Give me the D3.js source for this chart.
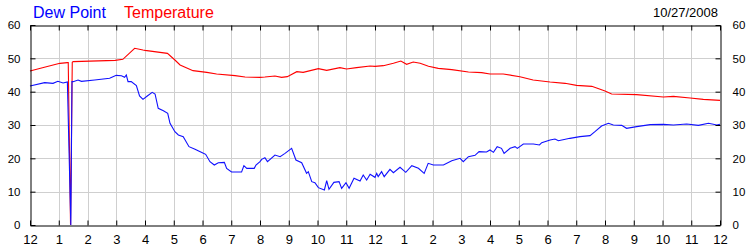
<!DOCTYPE html>
<html>
<head>
<meta charset="utf-8">
<style>
  body { margin: 0; background: #fff; }
  svg text { font-family: "Liberation Sans", Arial, sans-serif; }
</style>
</head>
<body>
<svg width="750" height="250"></svg>
<script src="https://d3js.org/d3.v7.min.js"></script>
<script>

// hours since midnight
var tempHours = [0, 0.5, 1.04, 1.30, 1.33, 1.41, 1.47, 1.5, 2.96, 3.23, 3.64, 3.93, 4.0, 4.78, 5.04, 5.22,
  5.67, 6.15, 6.49, 7.13, 7.48, 8.0, 8.17, 8.52, 8.75, 8.95, 9.28, 9.5, 10.03, 10.32, 10.78, 11.01,
  11.36, 11.83, 12.0, 12.29, 12.64, 12.9, 13.1, 13.33, 13.57, 13.86, 14.2, 14.67, 15.25, 15.71, 16.0,
  16.46, 17.04, 17.5, 18.09, 18.61, 19.01, 19.54, 19.71, 20.0, 20.23, 21.1, 22.03, 22.38, 22.96, 23.42, 24];
var tempValues = [46.2, 47.3, 48.5, 48.7, 48.7, 0, 48.8, 49.0, 49.4, 49.7, 53.0, 52.5, 52.4, 51.5, 49.5, 48.0,
  46.3, 45.8, 45.3, 44.8, 44.4, 44.3, 44.4, 44.7, 44.3, 44.5, 46.0, 45.8, 46.9, 46.4, 47.2, 46.8,
  47.2, 47.7, 47.6, 47.8, 48.5, 49.2, 48.2, 48.9, 48.5, 47.6, 47.0, 46.6, 45.9, 45.7, 45.3,
  45.3, 44.5, 43.5, 42.9, 42.5, 41.9, 41.6, 41.1, 40.2, 39.3, 39.1, 38.4, 38.6, 38.1, 37.7, 37.4];

var dewHours = [0, 0.51, 0.8, 0.97, 1.15, 1.30, 1.42, 1.46, 1.5, 1.67, 1.79, 2.25, 2.77, 3.0, 3.18, 3.29, 3.35,
  3.41, 3.52, 3.7, 3.81, 3.93, 4.08, 4.25, 4.35, 4.46, 4.64, 4.79, 4.87, 5.04, 5.16, 5.33, 5.53, 5.74,
  6.03, 6.11, 6.26, 6.41, 6.55, 6.76, 6.84, 7.01, 7.36, 7.44, 7.54, 7.8, 7.86, 8.0, 8.06, 8.17, 8.26,
  8.52, 8.7, 8.87, 9.1, 9.25, 9.45, 9.62, 9.68, 9.8, 9.91, 10.03, 10.24, 10.32, 10.4, 10.57, 10.75,
  10.84, 10.99, 11.1, 11.27, 11.48, 11.59, 11.71, 11.83, 12.0, 12.06, 12.11, 12.23, 12.32, 12.52,
  12.64, 12.87, 13.07, 13.28, 13.51, 13.71, 13.85, 14.03, 14.38, 14.67, 14.96, 15.07, 15.25, 15.48,
  15.62, 15.88, 16.0, 16.12, 16.25, 16.4, 16.49, 16.7, 16.87, 16.95, 17.16, 17.51, 17.72, 17.8,
  18.09, 18.26, 18.38, 18.78, 19.13, 19.48, 19.65, 19.88, 20.12, 20.29, 20.58, 20.75, 21.1, 21.57,
  22.03, 22.38, 22.84, 23.25, 23.6, 23.89, 24];
var dewValues = [41.7, 42.7, 42.5, 43.1, 42.6, 42.9, 0, 43.0, 43.0, 43.5, 43.1, 43.5, 44.0, 44.9, 44.8, 44.3, 45.0,
  43.0, 43.0, 41.8, 38.7, 37.7, 38.7, 39.8, 39.3, 35.0, 34.3, 33.5, 30.5, 28.0, 27.0, 26.5, 23.5, 22.7,
  21.5, 21.2, 19.0, 18.0, 18.7, 18.8, 17.0, 15.9, 15.9, 17.8, 17.0, 17.0, 18.0, 19.0, 19.7, 20.2, 19.0,
  21.0, 20.5, 21.5, 23.0, 19.5, 18.7, 15.5, 16.0, 13.0, 12.7, 11.2, 10.5, 13.3, 10.7, 12.8, 13.0,
  11.0, 12.7, 11.0, 14.0, 13.2, 15.0, 13.5, 15.2, 14.3, 15.5, 14.5, 16.0, 14.5, 16.7,
  15.7, 17.3, 15.8, 17.8, 17.0, 15.5, 18.5, 18.0, 18.0, 19.3, 20.0, 19.0, 20.5, 20.9,
  22.0, 21.9, 22.5, 21.8, 23.5, 23.0, 21.5, 23.0, 23.5, 23.0, 24.3, 24.3, 24.0, 24.7,
  25.5, 25.8, 25.3, 26.0, 26.5, 26.8, 28.0, 29.7, 30.5, 30.0, 29.9, 29.0, 29.5, 30.1,
  30.2, 30.0, 30.3, 29.9, 30.5, 30.0, 30.2];

var hourTicks = d3.range(0, 25);
var hourLabels = ["12", "1", "2", "3", "4", "5", "6", "7", "8", "9", "10", "11",
  "12", "1", "2", "3", "4", "5", "6", "7", "8", "9", "10", "11", "12"];
var valueTicks = [0, 10, 20, 30, 40, 50, 60];
var dateLabel = "10/27/2008";

var svg = d3.select("svg");
var plotLeft = 30, plotRight = 720, plotTop = 25, plotBottom = 225;

var x = d3.scaleLinear().domain([0, 24]).range([plotLeft, plotRight]);
var y = d3.scaleLinear().domain([0, 60]).range([plotBottom, plotTop]);

// grid
var grid = svg.append("g").attr("stroke", "#cfcfcf").attr("stroke-width", 1);
grid.selectAll(".vx").data(hourTicks.slice(1, -1)).enter().append("line")
    .attr("x1", function(d) { return Math.round(x(d)) + 0.5; })
    .attr("x2", function(d) { return Math.round(x(d)) + 0.5; })
    .attr("y1", plotTop).attr("y2", plotBottom);
grid.selectAll(".hy").data(valueTicks.slice(1, -1)).enter().append("line")
    .attr("y1", function(d) { return Math.round(y(d)) + 0.5; })
    .attr("y2", function(d) { return Math.round(y(d)) + 0.5; })
    .attr("x1", plotLeft).attr("x2", plotRight);

// lines
function series(hours, values) {
  return hours.map(function(h, i) { return [h, values[i]]; });
}
var line = d3.line()
    .x(function(d) { return x(d[0]); })
    .y(function(d) { return y(d[1]); });

svg.append("path")
    .datum(series(tempHours, tempValues))
    .attr("fill", "none").attr("stroke", "#ff0000").attr("stroke-width", 1.1)
    .attr("d", line);
svg.append("path")
    .datum(series(dewHours, dewValues))
    .attr("fill", "none").attr("stroke", "#1010ff").attr("stroke-width", 1.1)
    .attr("d", line);

// axes with inward ticks
var fontY = "11.5px", fontX = "13px";
var bottomAxis = d3.axisBottom(x).tickValues(hourTicks).tickSizeInner(-5).tickSizeOuter(0)
    .tickFormat(function(d) { return hourLabels[d]; }).tickPadding(9);
var topAxis = d3.axisTop(x).tickValues(hourTicks).tickSizeInner(-5).tickSizeOuter(0)
    .tickFormat("");
var leftAxis = d3.axisLeft(y).tickValues(valueTicks).tickSizeInner(-5).tickSizeOuter(0)
    .tickPadding(10);
var rightAxis = d3.axisRight(y).tickValues(valueTicks).tickSizeInner(-5).tickSizeOuter(0)
    .tickPadding(12);

function styleAxis(g, size) {
  g.selectAll("path").attr("stroke", "#000");
  g.selectAll("line").attr("stroke", "#000");
  g.selectAll("text").attr("fill", "#000").style("font-size", size)
    .style("font-family", "'Liberation Sans', Arial, sans-serif");
}

svg.append("g").attr("transform", "translate(0," + (plotBottom + 0.5) + ")")
    .call(bottomAxis).call(styleAxis, fontX);
svg.append("g").attr("transform", "translate(0," + (plotTop + 0.5) + ")")
    .call(topAxis).call(styleAxis, fontX);
svg.append("g").attr("transform", "translate(" + (plotLeft + 0.5) + ",0)")
    .call(leftAxis).call(styleAxis, fontY);
svg.append("g").attr("transform", "translate(" + (plotRight + 0.5) + ",0)")
    .call(rightAxis).call(styleAxis, fontY);

// titles
svg.append("text").attr("x", 33).attr("y", 18)
    .attr("fill", "#0000ff").style("font-size", "16px").text("Dew Point");
svg.append("text").attr("x", 124).attr("y", 18)
    .attr("fill", "#ff0000").style("font-size", "16px").text("Temperature");
svg.append("text").attr("x", 718).attr("y", 17).attr("text-anchor", "end")
    .attr("fill", "#000").style("font-size", "13px").text(dateLabel);

</script>
</body>
</html>
